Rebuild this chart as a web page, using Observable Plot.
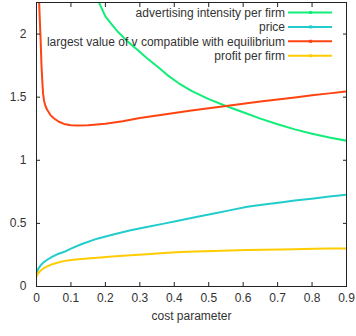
<!DOCTYPE html>
<html>
<head>
<meta charset="utf-8">
<script src="https://cdn.jsdelivr.net/npm/d3@7"></script>
<script src="https://cdn.jsdelivr.net/npm/@observablehq/plot@0.6"></script>
<style>
  body { margin: 0; background: #fff; }
</style>
</head>
<body>
<div id="chart"></div>
<script>
// Series names and colours, in drawing order
const seriesNames = [
  "advertising intensity per firm",
  "price",
  "largest value of v compatible with equilibrium",
  "profit per firm"
];
const seriesColors = ["#11ee77", "#22cccc", "#ff4411", "#ffcc00"];

// Advertising intensity per firm
const advCost  = [0.17, 0.178, 0.19, 0.2, 0.22, 0.239, 0.265, 0.292, 0.32, 0.35, 0.38, 0.413, 0.45, 0.5, 0.55, 0.6, 0.65, 0.7, 0.75, 0.8, 0.85, 0.9];
const advValue = [2.33, 2.27, 2.2, 2.14, 2.07, 2.01, 1.94, 1.878, 1.81, 1.745, 1.675, 1.61, 1.55, 1.485, 1.43, 1.38, 1.33, 1.285, 1.245, 1.21, 1.18, 1.155];

// Price
const priceCost  = [0, 0.005, 0.012, 0.02, 0.031, 0.045, 0.06, 0.079, 0.1, 0.13, 0.176, 0.22, 0.273, 0.32, 0.37, 0.418, 0.46, 0.515, 0.56, 0.612, 0.66, 0.708, 0.75, 0.805, 0.85, 0.9];
const priceValue = [0.106, 0.14, 0.167, 0.19, 0.212, 0.235, 0.255, 0.273, 0.3, 0.335, 0.379, 0.41, 0.445, 0.472, 0.498, 0.525, 0.548, 0.578, 0.603, 0.631, 0.65, 0.666, 0.682, 0.698, 0.713, 0.727];

// Largest value of v compatible with equilibrium
const vmaxCost  = [0.005, 0.007, 0.0095, 0.012, 0.0145, 0.017, 0.019, 0.022, 0.026, 0.031, 0.04, 0.05, 0.065, 0.08, 0.1, 0.12, 0.15, 0.2, 0.25, 0.3, 0.35, 0.4, 0.45, 0.5, 0.55, 0.6, 0.65, 0.7, 0.75, 0.8, 0.85, 0.9];
const vmaxValue = [2.6, 2.3, 2.12, 1.95, 1.75, 1.62, 1.53, 1.47, 1.43, 1.4, 1.36, 1.333, 1.305, 1.288, 1.278, 1.276, 1.278, 1.29, 1.31, 1.335, 1.355, 1.375, 1.395, 1.413, 1.43, 1.447, 1.465, 1.482, 1.498, 1.515, 1.53, 1.545];

// Profit per firm
const profitCost  = [0, 0.005, 0.012, 0.02, 0.031, 0.045, 0.06, 0.079, 0.1, 0.13, 0.176, 0.22, 0.273, 0.32, 0.37, 0.418, 0.46, 0.515, 0.56, 0.612, 0.66, 0.708, 0.75, 0.805, 0.85, 0.9];
const profitValue = [0.08, 0.105, 0.127, 0.143, 0.159, 0.175, 0.188, 0.201, 0.21, 0.218, 0.228, 0.237, 0.247, 0.256, 0.265, 0.273, 0.278, 0.282, 0.286, 0.289, 0.292, 0.294, 0.296, 0.3, 0.301, 0.302];

// Axis ticks
const xTicks = [0, 0.1, 0.2, 0.3, 0.4, 0.5, 0.6, 0.7, 0.8, 0.9];
const yTicks = [0, 0.5, 1, 1.5, 2];
const xLabel = "cost parameter";

const rows = (name, cost, value) => cost.map((c, i) => ({series: name, cost: c, value: value[i]}));
const data = [
  ...rows(seriesNames[0], advCost, advValue),
  ...rows(seriesNames[1], priceCost, priceValue),
  ...rows(seriesNames[2], vmaxCost, vmaxValue),
  ...rows(seriesNames[3], profitCost, profitValue)
];

const font = "'Liberation Sans', Arial, sans-serif";
const plain = (d) => String(d);

const chart = Plot.plot({
  width: 356,
  height: 336,
  marginLeft: 36,
  marginRight: 10,
  marginTop: 2,
  marginBottom: 50,
  style: {fontFamily: font, fontSize: "12px", color: "#333", background: "#fff"},
  x: {domain: [0, 0.9]},
  y: {domain: [0, 2.25]},
  color: {domain: seriesNames, range: seriesColors},
  marks: [
    Plot.line(data, {x: "cost", y: "value", z: "series", stroke: "series", strokeWidth: 2, clip: true}),
    Plot.frame({stroke: "#222"}),
    Plot.axisX({ticks: xTicks, tickSize: -4, tickPadding: 11, tickFormat: plain, label: null, stroke: "#222"}),
    Plot.axisX({anchor: "top", ticks: xTicks, tickSize: -4, tickFormat: () => "", label: null, stroke: "#222"}),
    Plot.axisY({ticks: yTicks, tickSize: -4, tickPadding: 14, tickFormat: plain, label: null, stroke: "#222"}),
    Plot.axisY({anchor: "right", ticks: yTicks, tickSize: -4, tickFormat: () => "", label: null, stroke: "#222"}),
    Plot.text([xLabel], {frameAnchor: "bottom", dy: 33, fill: "#333"})
  ]
});

// Key in the top-right corner: right-aligned names followed by a line sample
const svg = d3.select(chart);
const key = svg.append("g")
  .attr("font-family", font)
  .attr("font-size", 12)
  .attr("fill", "#333");
seriesNames.forEach((name, i) => {
  const y = 12.5 + i * 14.4;
  key.append("text")
    .attr("x", 285).attr("y", y).attr("dy", "0.35em")
    .attr("text-anchor", "end")
    .text(name);
  key.append("line")
    .attr("x1", 288).attr("x2", 332).attr("y1", y).attr("y2", y)
    .attr("stroke", seriesColors[i]).attr("stroke-width", 2);
  key.append("rect")
    .attr("x", 309).attr("y", y - 1.5).attr("width", 3).attr("height", 3)
    .attr("fill", seriesColors[i]);
});

document.getElementById("chart").appendChild(chart);
</script>
</body>
</html>
